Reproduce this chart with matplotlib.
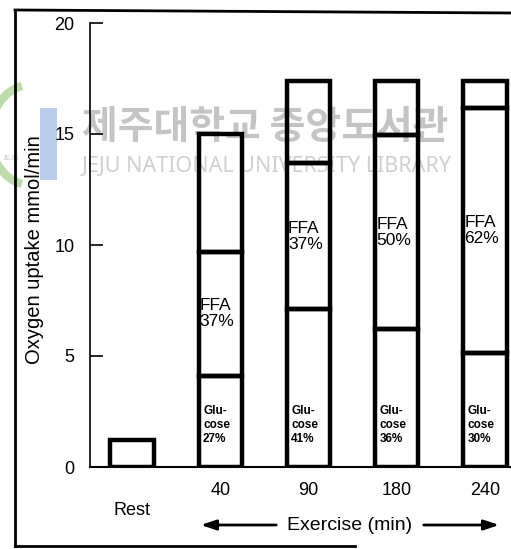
import numpy as np
import matplotlib.pyplot as plt
from matplotlib.lines import Line2D
from matplotlib.patches import Arc, Rectangle

plt.rcParams['font.family'] = ['Liberation Sans', 'DejaVu Sans']

# data
categories = ['\nRest', '40', '90', '180', '240']
rest_total = [1.2]
glucose = [4.1, 7.1, 6.2, 5.15]
ffa = [5.6, 6.6, 8.75, 11.0]
other = [5.3, 3.7, 2.45, 1.25]
glucose_pct = ['27%', '41%', '36%', '30%']
ffa_pct = ['37%', '37%', '50%', '62%']
yticks = [0, 5, 10, 15, 20]

W, H = 511, 549


def px(x, y):
    # pixel position (from top-left) -> figure fraction
    return x / W, 1 - y / H


fig = plt.figure(figsize=(W / 100, H / 100), dpi=100)
ax = fig.add_axes([90 / W, 82 / H, 421 / W, 444 / H])
ax.set_facecolor('none')

x = np.arange(len(categories))
w = 0.49
lw = 3.2

ax.bar(x[:1], rest_total, width=w, facecolor='none', edgecolor='black', linewidth=lw)
xe = x[1:]
g = np.array(glucose)
f = np.array(ffa)
o = np.array(other)
ax.bar(xe, g, width=w, facecolor='none', edgecolor='black', linewidth=lw)
ax.bar(xe, f, bottom=g, width=w, facecolor='none', edgecolor='black', linewidth=lw)
ax.bar(xe, o, bottom=g + f, width=w, facecolor='none', edgecolor='black', linewidth=lw)

for xi, gi, fi, fp, gp in zip(xe, g, f, ffa_pct, glucose_pct):
    ax.text(xi - w / 2 + 0.012, gi + fi / 2, 'FFA\n' + fp, ha='left', va='center',
            fontsize=12.5, linespacing=1.1)
    ax.text(xi - w / 2 + 0.05, 1.9, 'Glu-\ncose\n' + gp, ha='left', va='center',
            fontsize=8.5, fontweight='bold', linespacing=1.25)

ax.set_xlim(-0.476, 4.295)
ax.set_ylim(0, 20)
ax.set_yticks(yticks)
ax.set_xticks(x, categories)
ax.tick_params(axis='y', direction='in', length=9, width=1.2, pad=11, labelsize=13)
ax.tick_params(axis='x', length=0, pad=11, labelsize=13)
for s in ['top', 'right']:
    ax.spines[s].set_visible(False)
ax.spines['left'].set_linewidth(1.2)
ax.spines['bottom'].set_linewidth(1.5)
ax.set_ylabel('Oxygen uptake mmol/min', fontsize=14.5)
ax.yaxis.set_label_coords(-(90 - 44) / 421, 0.49)

# "Exercise (min)" with arrows
fig.text(*px(350, 525), 'Exercise (min)', ha='center', va='center', fontsize=14)
arrow = dict(arrowstyle='-|>,head_length=0.9,head_width=0.3', color='black', lw=2)
ax.annotate('', xy=px(198, 525), xytext=px(279, 525), xycoords='figure fraction',
            textcoords='figure fraction', arrowprops=arrow)
ax.annotate('', xy=px(502, 525), xytext=px(421, 525), xycoords='figure fraction',
            textcoords='figure fraction', arrowprops=arrow)

# outer frame of the scanned figure
for xs, ys in [([15, 15], [10, 546]), ([15, 511], [10, 13]), ([15, 355], [546, 546])]:
    pts = [px(a, b) for a, b in zip(xs, ys)]
    fig.add_artist(Line2D([p[0] for p in pts], [p[1] for p in pts],
                          transform=fig.transFigure, color='black', lw=2))

# library watermark
fig.text(*px(82, 127), '제주대학교 중앙도서관', family=['Noto Sans CJK KR'],
         fontsize=28, fontweight='bold', color='#c4c4c4', ha='left', va='center', zorder=-2)
fig.text(*px(82, 167), 'JEJU NATIONAL UNIVERSITY LIBRARY', family=['Noto Sans', 'DejaVu Sans'],
         fontsize=15.5, color='#d0d0d0', ha='left', va='center', zorder=-2)
cx, cy = px(30, 135)
fig.add_artist(Arc((cx, cy), 80 / W, 100 / H, theta1=100, theta2=260, transform=fig.transFigure,
                   color='#bedcab', lw=6, zorder=-3))
rx, ry = px(40, 180)
fig.add_artist(Rectangle((rx, ry), 17 / W, 72 / H, transform=fig.transFigure,
                         facecolor='#b8cdea', edgecolor='none', zorder=-3))
fig.text(*px(3, 158), 'JEJU', fontsize=5, color='#c8c8c8', ha='left', va='center', zorder=-2)

fig.savefig('out.png', dpi=100)
